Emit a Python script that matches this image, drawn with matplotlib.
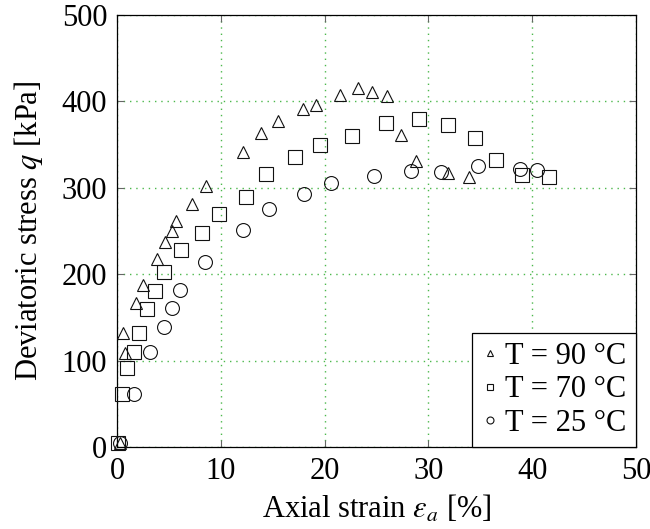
import matplotlib
matplotlib.use("Agg")
import matplotlib.pyplot as plt

# axial strain [%] / deviatoric stress [kPa]
T90_strain = [0.3, 0.6, 0.8, 1.8, 2.5, 3.9, 4.6, 5.3, 5.7, 7.2, 8.6, 12.1, 13.9, 15.5,
              17.9, 19.2, 21.5, 23.2, 24.6, 26.0, 27.4, 28.8, 31.9, 33.9]
T90_q      = [5, 132, 109, 167, 187, 218, 237, 250, 262, 281, 302, 342, 364, 377,
              391, 396, 407, 415, 411, 406, 361, 331, 317, 313]

T70_strain = [0.1, 0.5, 1.0, 1.6, 2.1, 2.9, 3.7, 4.5, 6.2, 8.2, 9.8, 12.4, 14.4, 17.1,
              19.6, 22.6, 25.9, 29.1, 31.9, 34.5, 36.5, 39.0, 41.6]
T70_q      = [5, 61, 91, 110, 132, 160, 180, 203, 228, 248, 270, 289, 316, 336,
              349, 360, 375, 380, 373, 358, 332, 315, 313]

T25_strain = [0.3, 1.6, 3.2, 4.5, 5.3, 6.1, 8.5, 12.1, 14.6, 18.0, 20.6, 24.8, 28.3,
              31.2, 34.8, 38.8, 40.5]
T25_q      = [5, 61, 110, 139, 161, 182, 214, 251, 275, 293, 306, 314, 319,
              318, 325, 322, 321]

plt.rcParams["font.family"] = ["Liberation Serif", "DejaVu Serif"]
plt.rcParams["mathtext.fontset"] = "stix"
plt.rcParams["font.size"] = 22

fig = plt.figure(figsize=(6.5, 5.29), dpi=100)
ax = fig.add_axes([0.18, 0.155, 0.7985, 0.8166])

series = [
    (T90_strain, T90_q, "^", 9, "T = 90 °C"),
    (T70_strain, T70_q, "s", 9.5, "T = 70 °C"),
    (T25_strain, T25_q, "o", 10, "T = 25 °C"),
]
for xs, ys, mk, ms, lab in series:
    ax.plot(xs, ys, linestyle="none", marker=mk, markersize=ms, markerfacecolor="none",
            markeredgecolor="#111111", markeredgewidth=0.8, label=lab, clip_on=False, zorder=3)

ax.set_xlim(0, 50)
ax.set_ylim(0, 500)
ax.set_xticks(range(0, 51, 10))
ax.set_yticks(range(0, 501, 100))
ax.tick_params(direction="in", top=True, right=True, length=5, width=0.8,
               color="#666666", pad=7)
ax.grid(True, color="#4cb84c", linestyle=(0, (1, 3.5)), linewidth=1.0)
for sp in ax.spines.values():
    sp.set_linewidth(0.9)

ax.set_xlabel(r"Axial strain $\varepsilon_a$ [%]", labelpad=6)
ax.set_ylabel(r"Deviatoric stress $q$ [kPa]", labelpad=12)

leg = ax.legend(loc="lower right", borderaxespad=0, fancybox=False, framealpha=1,
                edgecolor="black", markerscale=0.5, handlelength=0.6, handletextpad=0.2,
                borderpad=0.3, labelspacing=0.15)
leg.get_frame().set_linewidth(0.9)

fig.savefig("out.png", dpi=100)
